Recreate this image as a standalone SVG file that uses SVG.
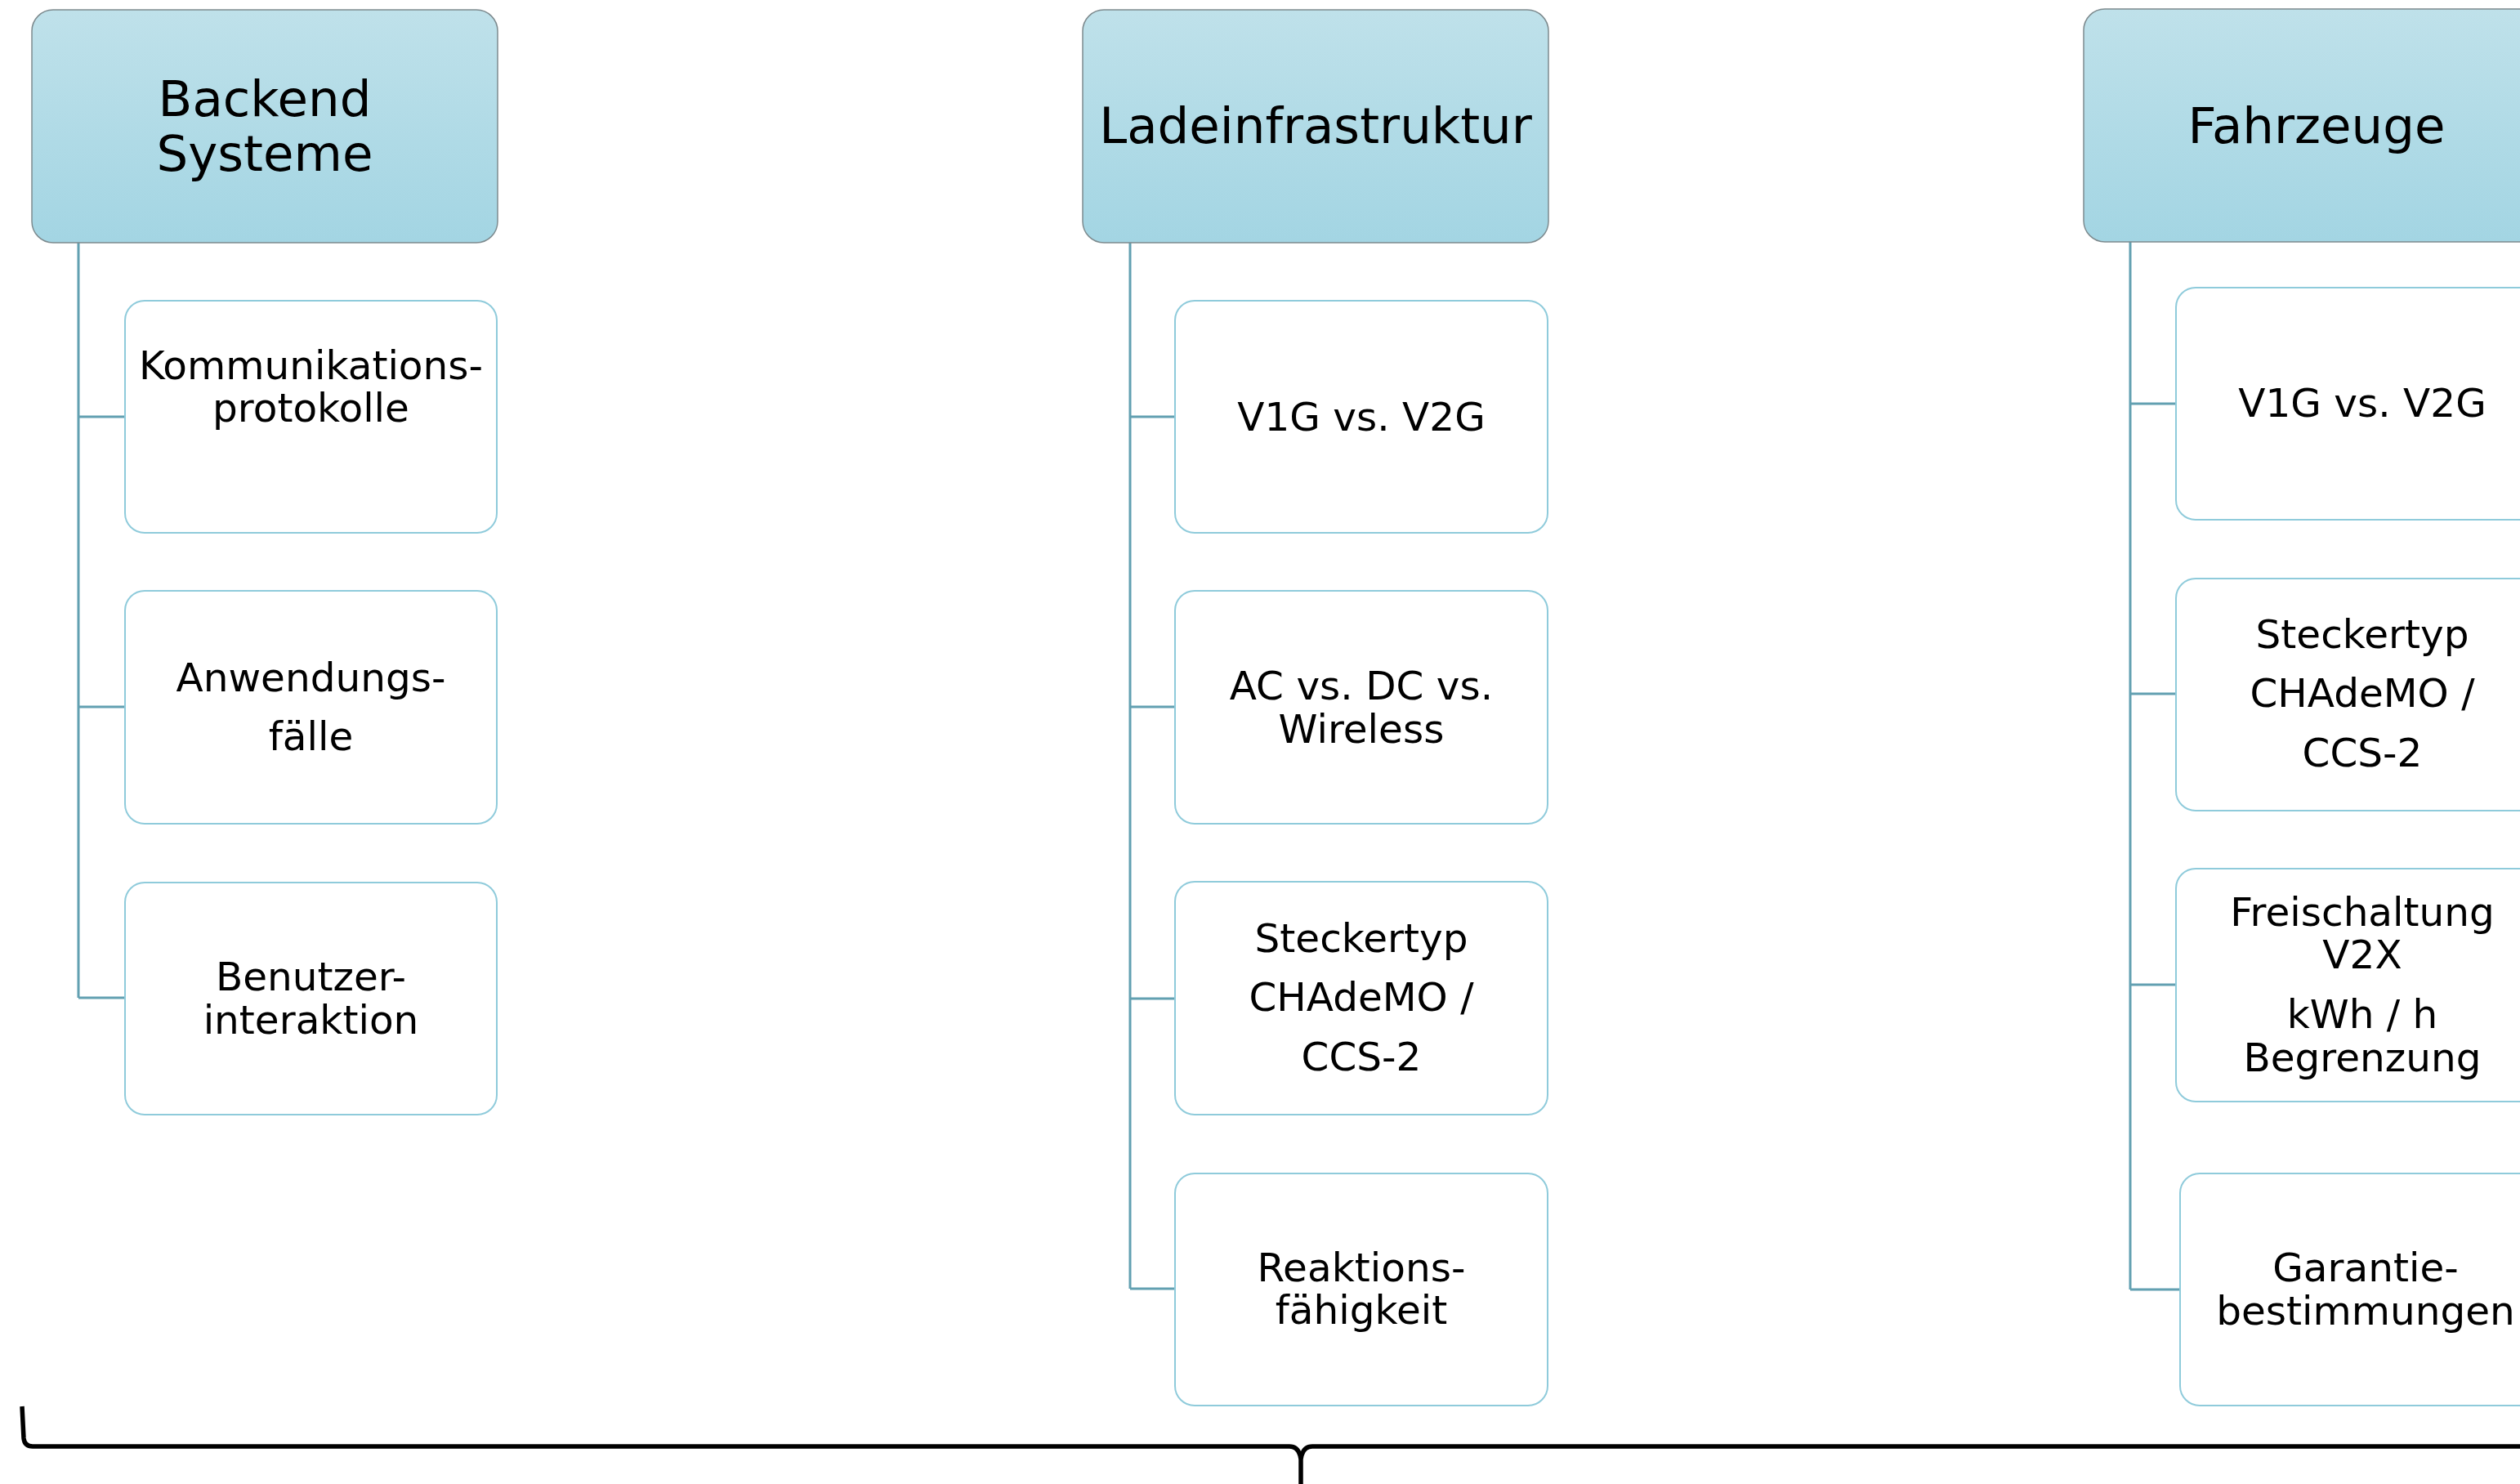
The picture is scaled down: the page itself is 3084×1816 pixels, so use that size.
<svg xmlns="http://www.w3.org/2000/svg" width="3084" height="1816" viewBox="0 0 3084 1816">
  <defs>
    <linearGradient id="headFill" x1="0" y1="0" x2="0" y2="1">
      <stop offset="0" stop-color="#bfe1ea"/>
      <stop offset="1" stop-color="#a3d5e3"/>
    </linearGradient>
  </defs>
  <style>
    .head { fill: url(#headFill); stroke: #7d8a8e; stroke-width: 1.5; }
    .item { fill: #ffffff; stroke: #8fcbdb; stroke-width: 2; }
    .link { fill: none; stroke: #62a0b1; stroke-width: 3; }
    .brace { fill: none; stroke: #000000; stroke-width: 5.5; stroke-linejoin: round; }
    text { font-family: "DejaVu Sans", Verdana, sans-serif; fill: #000000; text-anchor: middle; }
    .ht { font-size: 61px; }
    .it { font-size: 48.5px; }
  </style>

  <rect width="3084" height="1816" fill="#ffffff"/>

  <!-- tree connectors -->
  <g id="connectors">
    <path class="link" d="M96 297 V1221 M96 510 H153 M96 865 H153 M96 1221 H153"/>
    <path class="link" d="M1383 297 V1577 M1383 510 H1438 M1383 865 H1438 M1383 1222 H1438 M1383 1577 H1438"/>
    <path class="link" d="M2607 296 V1578 M2607 494 H2663 M2607 849 H2663 M2607 1205 H2663 M2607 1578 H2668"/>
  </g>

  <!-- column: Backend Systeme -->
  <g id="backend">
    <rect class="head" x="39" y="12" width="570" height="285" rx="26"/>
    <text class="ht" x="324" y="142">Backend</text>
    <text class="ht" x="324" y="209">Systeme</text>
  </g>
  <g id="backend-protokolle">
    <rect class="item" x="153" y="368" width="455" height="284" rx="24"/>
    <text class="it" x="380.5" y="464">Kommunikations-</text>
    <text class="it" x="380.5" y="516">protokolle</text>
  </g>
  <g id="backend-anwendungsfaelle">
    <rect class="item" x="153" y="723" width="455" height="285" rx="24"/>
    <text class="it" x="380.5" y="846">Anwendungs-</text>
    <text class="it" x="380.5" y="918">fälle</text>
  </g>
  <g id="backend-benutzerinteraktion">
    <rect class="item" x="153" y="1080" width="455" height="284" rx="24"/>
    <text class="it" x="380.5" y="1212">Benutzer-</text>
    <text class="it" x="380.5" y="1265">interaktion</text>
  </g>

  <!-- column: Ladeinfrastruktur -->
  <g id="ladeinfrastruktur">
    <rect class="head" x="1325" y="12" width="570" height="285" rx="26"/>
    <text class="ht" x="1610" y="175">Ladeinfrastruktur</text>
  </g>
  <g id="lade-v1g-v2g">
    <rect class="item" x="1438" y="368" width="456" height="284" rx="24"/>
    <text class="it" x="1666" y="527">V1G vs. V2G</text>
  </g>
  <g id="lade-ac-dc">
    <rect class="item" x="1438" y="723" width="456" height="285" rx="24"/>
    <text class="it" x="1666" y="856">AC vs. DC vs.</text>
    <text class="it" x="1666" y="909">Wireless</text>
  </g>
  <g id="lade-steckertyp">
    <rect class="item" x="1438" y="1079" width="456" height="285" rx="24"/>
    <text class="it" x="1666" y="1165">Steckertyp</text>
    <text class="it" x="1666" y="1237">CHAdeMO /</text>
    <text class="it" x="1666" y="1310">CCS-2</text>
  </g>
  <g id="lade-reaktion">
    <rect class="item" x="1438" y="1436" width="456" height="284" rx="24"/>
    <text class="it" x="1666" y="1568">Reaktions-</text>
    <text class="it" x="1666" y="1620">fähigkeit</text>
  </g>

  <!-- column: Fahrzeuge -->
  <g id="fahrzeuge">
    <rect class="head" x="2550" y="11" width="570" height="285" rx="26"/>
    <text class="ht" x="2835" y="175">Fahrzeuge</text>
  </g>
  <g id="fzg-v1g-v2g">
    <rect class="item" x="2663" y="352" width="456" height="284" rx="24"/>
    <text class="it" x="2891" y="510">V1G vs. V2G</text>
  </g>
  <g id="fzg-steckertyp">
    <rect class="item" x="2663" y="708" width="456" height="284" rx="24"/>
    <text class="it" x="2891" y="793">Steckertyp</text>
    <text class="it" x="2891" y="865">CHAdeMO /</text>
    <text class="it" x="2891" y="938">CCS-2</text>
  </g>
  <g id="fzg-freischaltung">
    <rect class="item" x="2663" y="1063" width="456" height="285" rx="24"/>
    <text class="it" x="2891" y="1133">Freischaltung</text>
    <text class="it" x="2891" y="1185">V2X</text>
    <text class="it" x="2891" y="1258">kWh / h</text>
    <text class="it" x="2891" y="1311">Begrenzung</text>
  </g>
  <g id="fzg-garantie">
    <rect class="item" x="2668" y="1436" width="456" height="284" rx="24"/>
    <text class="it" x="2895" y="1568">Garantie-</text>
    <text class="it" x="2895" y="1621">bestimmungen</text>
  </g>

  <!-- curly brace spanning all columns -->
  <g id="brace">
    <path class="brace" d="M27 1721 L29 1760 Q30 1770 40 1770 L1578 1770 Q1590 1770 1592 1786 L1592 1820 M1592 1786 Q1594 1770 1606 1770 L3090 1770"/>
  </g>
</svg>
